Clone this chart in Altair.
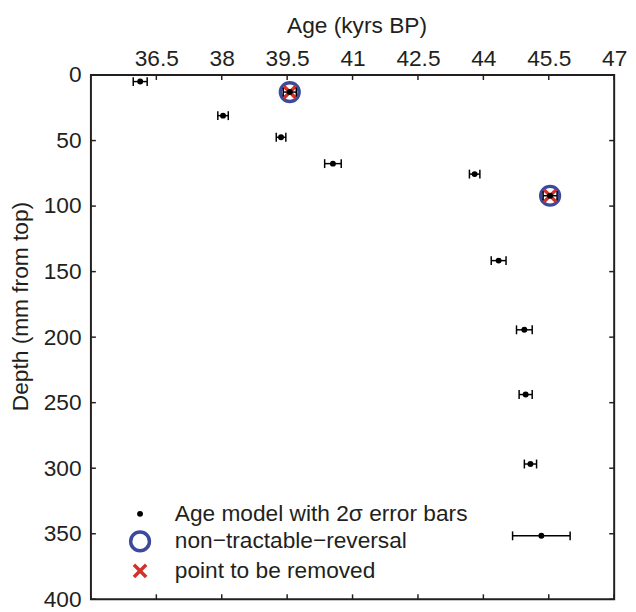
import altair as alt
import pandas as pd

# ---- data ----
ages   = [36.13, 39.56, 38.03, 39.36, 40.55, 43.80, 45.53, 44.35, 44.94, 44.97, 45.08, 45.33]
depths = [5.0, 13.0, 31.0, 47.5, 67.6, 75.6, 92.1, 141.6, 194.4, 243.8, 296.8, 351.6]
errs   = [0.16, 0.15, 0.12, 0.11, 0.19, 0.12, 0.16, 0.17, 0.18, 0.15, 0.14, 0.66]
reversal_idx = [1, 6]

series_names = ["Age model with 2σ error bars", "non−tractable−reversal", "point to be removed"]
x_ticks = [36.5, 38, 39.5, 41, 42.5, 44, 45.5, 47]
y_ticks = [0, 50, 100, 150, 200, 250, 300, 350, 400]

FONT = "Liberation Sans"
DARK = "#231f20"
BLUE = "#3c4a9e"
RED = "#d2322a"
# symbol shapes (unit box, scaled by the mark size)
SHAPE_DOT = "M-0.125,0A0.125,0.125,0,1,0,0.125,0A0.125,0.125,0,1,0,-0.125,0Z"
SHAPE_RING = "M-0.95,0A0.95,0.95,0,1,0,0.95,0A0.95,0.95,0,1,0,-0.95,0Z"
SHAPE_X = "M-0.62,-0.62L0.62,0.62M-0.62,0.62L0.62,-0.62"
W, H = 530, 531
FS = 23

rows = []
for i in reversal_idx:
    rows.append({"age": ages[i], "depth": depths[i], "series": series_names[1]})
for i in reversal_idx:
    rows.append({"age": ages[i], "depth": depths[i], "series": series_names[2]})
for a, d in zip(ages, depths):
    rows.append({"age": a, "depth": d, "series": series_names[0]})
pts_df = pd.DataFrame(rows)

err_df = pd.DataFrame({
    "age": ages, "depth": depths,
    "lo": [a - e for a, e in zip(ages, errs)],
    "hi": [a + e for a, e in zip(ages, errs)],
})
xt_df = pd.DataFrame({"v": x_ticks})
yt_df = pd.DataFrame({"v": y_ticks})

xscale = alt.Scale(domain=[35, 47], nice=False, zero=False, padding=0)
yscale = alt.Scale(domain=[0, 400], nice=False, reverse=True, padding=0)

xaxis = alt.Axis(orient="top", title="Age (kyrs BP)", values=x_ticks,
                 labelExpr="'' + datum.value",
                 ticks=False, tickSize=0, domain=False, grid=False,
                 labelFlush=False, labelOverlap=False, labelPadding=9.7,
                 labelBaseline="alphabetic",
                 titleX=269, titleY=-38, titleBaseline="bottom", titleAlign="center")
yaxis = alt.Axis(orient="left", title="Depth (mm from top)", values=y_ticks,
                 labelExpr="'' + datum.value",
                 ticks=False, tickSize=0, domain=False, grid=False,
                 labelFlush=False, labelOverlap=False, labelPadding=10,
                 titleX=-59, titleY=234, titleBaseline="bottom", titleAlign="center",
                 titleAngle=270)

legend = alt.Legend(title=None, orient="none", legendX=37.75, legendY=432.5,
                    labelFontSize=FS, labelFont=FONT, labelColor=DARK,
                    labelLimit=500, labelOffset=23.2, rowPadding=-1.1, padding=0,
                    symbolSize=400, symbolStrokeWidth=3.5)

X = lambda f: alt.X(f, scale=xscale, axis=xaxis)
Y = lambda f: alt.Y(f, scale=yscale, axis=yaxis)

points = alt.Chart(pts_df).mark_point(opacity=1, filled=False, size=400, strokeWidth=3.5).encode(
    x=X("age:Q"),
    y=Y("depth:Q"),
    shape=alt.Shape("series:N", scale=alt.Scale(domain=series_names, range=[SHAPE_DOT, SHAPE_RING, SHAPE_X]), legend=legend),
    stroke=alt.Stroke("series:N", scale=alt.Scale(domain=series_names, range=["#000000", BLUE, RED]), legend=legend),
    fill=alt.Fill("series:N", scale=alt.Scale(domain=series_names, range=["#000000", "transparent", "transparent"]), legend=legend),
)

bars = alt.Chart(err_df).mark_rule(color="#000000", strokeWidth=1.5).encode(
    x=X("lo:Q"), x2="hi:Q", y=Y("depth:Q"))
cap_lo = alt.Chart(err_df).mark_tick(color="#000000", orient="vertical", size=9, thickness=1.5, opacity=1).encode(
    x=X("lo:Q"), y=Y("depth:Q"))
cap_hi = alt.Chart(err_df).mark_tick(color="#000000", orient="vertical", size=9, thickness=1.5, opacity=1).encode(
    x=X("hi:Q"), y=Y("depth:Q"))

tick_style = dict(color=DARK, strokeWidth=1.5)
top_t = alt.Chart(xt_df).mark_rule(**tick_style).encode(x=X("v:Q"), y=alt.value(0), y2=alt.value(5))
bot_t = alt.Chart(xt_df).mark_rule(**tick_style).encode(x=X("v:Q"), y=alt.value(H - 5), y2=alt.value(H))
left_t = alt.Chart(yt_df).mark_rule(**tick_style).encode(y=Y("v:Q"), x=alt.value(0), x2=alt.value(5))
right_t = alt.Chart(yt_df).mark_rule(**tick_style).encode(y=Y("v:Q"), x=alt.value(W - 5), x2=alt.value(W))

chart = alt.layer(top_t, bot_t, left_t, right_t, points, bars, cap_lo, cap_hi).properties(
    width=W, height=H,
    autosize=alt.AutoSizeParams(type="none"),
    padding={"left": 84, "top": 64, "right": 14, "bottom": 9},
    background="white",
).configure_view(
    stroke=DARK, strokeWidth=2
).configure_axis(
    labelFont=FONT, labelFontSize=FS, labelColor=DARK,
    titleFont=FONT, titleFontSize=FS, titleColor=DARK, titleFontWeight="normal",
)

chart.save("out.html", embed_options={"renderer": "svg", "actions": False})
